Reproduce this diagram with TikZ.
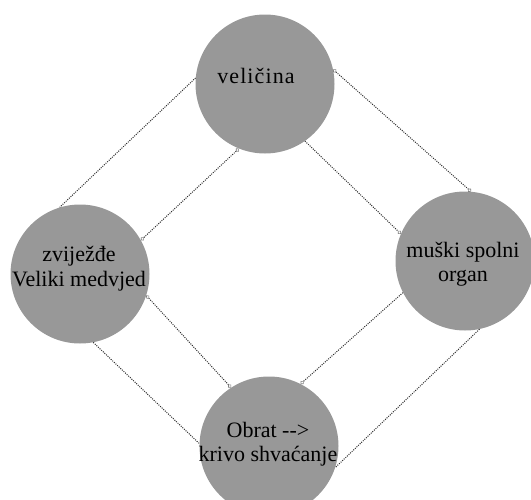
\documentclass[tikz,border=0pt]{standalone}
\usepackage{fontspec}
\setmainfont{Liberation Serif}
\usetikzlibrary{arrows.meta}
\definecolor{discfill}{RGB}{152,152,152}
\definecolor{linkgray}{RGB}{45,45,45}
\tikzset{
  disc/.style={circle, fill=discfill, draw=none, minimum size=139pt, inner sep=0pt},
  caption/.style={font=\fontsize{22}{24.4}\selectfont, align=center, inner sep=0pt, text=black},
  link/.style={draw=linkgray, line width=1pt, dash pattern=on 1pt off 1.2pt},
  knob/.tip={Circle[open, length=4pt, width=4pt, line width=0.6pt, fill=white, color=gray]}
}
\begin{document}
\begin{tikzpicture}[x=1pt, y=-1pt]
  \useasboundingbox (0,0) rectangle (531,499);
  \clip (0,0) rectangle (531,499);

  % four discs
  \node[disc] (top)    at (265,84)  {};
  \node[disc] (left)   at (80,274)  {};
  \node[disc] (right)  at (465,261) {};
  \node[disc] (bottom) at (269,446) {};

  % captions
  \node[caption, anchor=base] (ttop) at (256,83)
    {\addfontfeatures{LetterSpace=5}veli\v{c}ina};
  \node[caption] (tleft)   at (79,268.5)  {zviježđe\\Veliki medvjed};
  \node[caption] (tright)  at (463,264.5) {muški spolni\\organ};
  \node[caption] (tbottom) at (268,444.5) {Obrat -{}->\\krivo shvaćanje};

  % connectors: two parallel dotted links along each side
  \draw[link] (top.175) -- (left.107);
  \draw[link, {knob}-{knob}] (top.248) -- (left.29);
  \draw[link, {knob}-{knob}] (top.12) -- (right.85);
  \draw[link, -{knob}] (top.305) -- (right.157);
  \draw[link, {knob}-{knob}] (left.342) -- (bottom.123);
  \draw[link] (left.281) -- (bottom.178);
  \draw[link, -{knob}] (right.207) -- (bottom.63);
  \draw[link] (right.282) -- (bottom.342);
\end{tikzpicture}
\end{document}
